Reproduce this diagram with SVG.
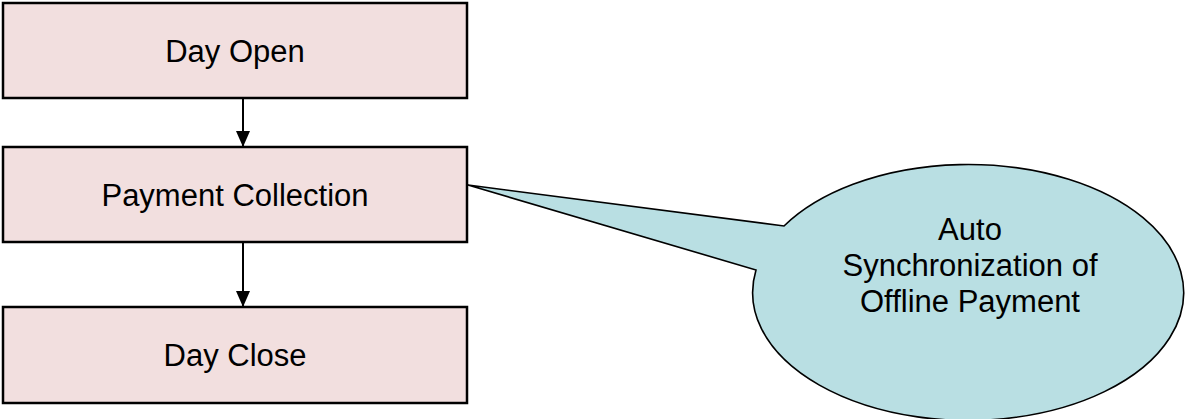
<svg xmlns="http://www.w3.org/2000/svg" width="1186" height="419" viewBox="0 0 1186 419">
  <style>
    .box { fill: #F2DFDF; stroke: #000; stroke-width: 2.5; }
    .lbl { font-family: "Liberation Sans", Arial, sans-serif; font-size: 31px; fill: #000; text-anchor: middle; }
    .conn { stroke: #000; stroke-width: 2; fill: none; }
    .callout { fill: #B9DFE3; stroke: #000; stroke-width: 1.6; stroke-linejoin: miter; }
  </style>
  <defs>
    <marker id="arr" viewBox="0 0 16 14" refX="16" refY="7" markerWidth="16" markerHeight="14" markerUnits="userSpaceOnUse" orient="auto">
      <path d="M0,0 L16,7 L0,14 Z" fill="#000"/>
    </marker>
  </defs>

  <g id="connectors">
    <line class="conn" x1="243" y1="98" x2="243" y2="147" marker-end="url(#arr)"/>
    <line class="conn" x1="243" y1="242" x2="243" y2="307" marker-end="url(#arr)"/>
  </g>

  <g id="day-open">
    <rect class="box" x="3" y="3" width="464" height="95"/>
    <text class="lbl" x="235" y="62">Day Open</text>
  </g>

  <g id="payment-collection">
    <rect class="box" x="3" y="147" width="464" height="95"/>
    <text class="lbl" x="235" y="206">Payment Collection</text>
  </g>

  <g id="day-close">
    <rect class="box" x="3" y="307" width="464" height="96"/>
    <text class="lbl" x="235" y="366">Day Close</text>
  </g>

  <g id="auto-sync-callout">
    <path class="callout" d="M468,185 L784,226 A215.5,128 0 1 1 756,270 Z"/>
    <text class="lbl" x="970" y="240">Auto</text>
    <text class="lbl" x="970" y="276">Synchronization of</text>
    <text class="lbl" x="970" y="312">Offline Payment</text>
  </g>
</svg>
